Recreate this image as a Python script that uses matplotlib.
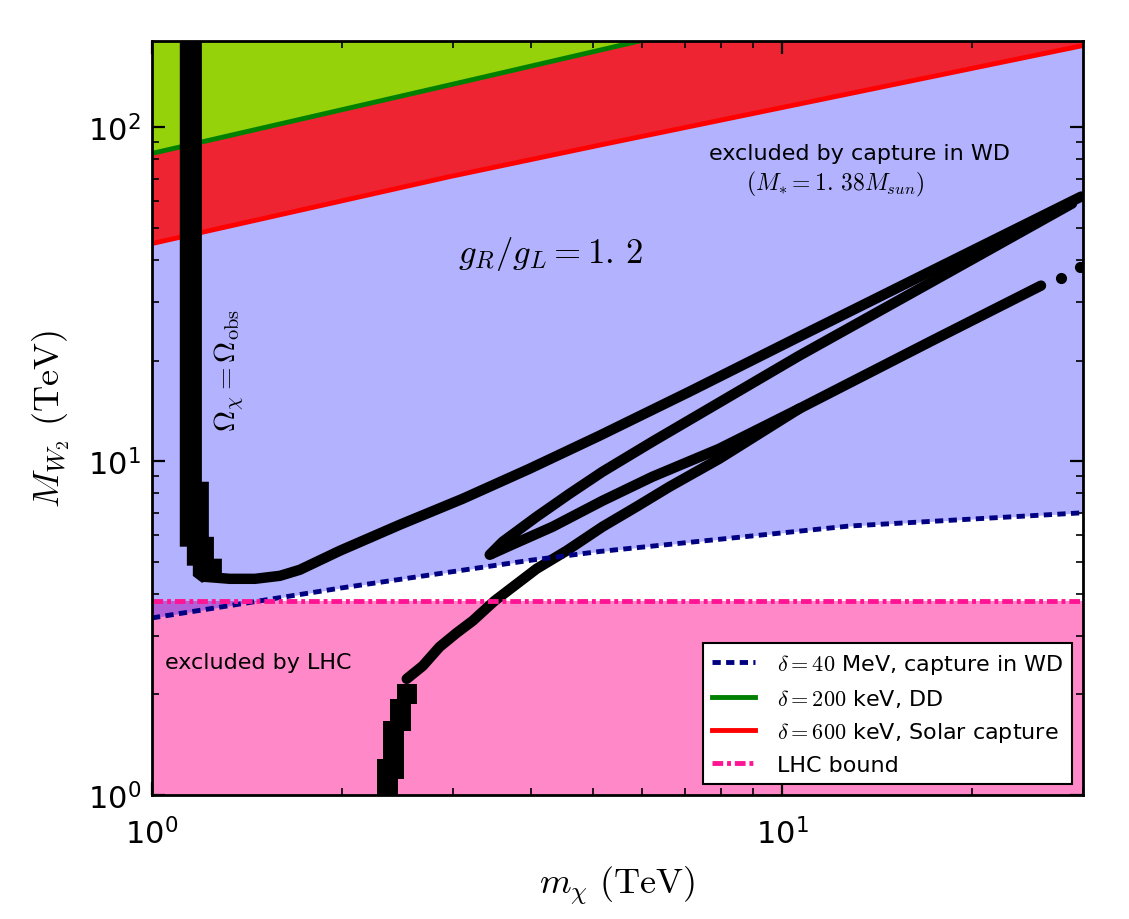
import matplotlib
matplotlib.use('Agg')
import matplotlib.pyplot as plt
from matplotlib.font_manager import FontProperties
from matplotlib.ticker import NullFormatter

plt.rcParams['font.family'] = ['DejaVu Sans']
plt.rcParams['mathtext.fontset'] = 'dejavusans'

# ---- values (TeV) ----
# delta = 40 MeV, capture in WD
wd_x = [1.0, 2.0, 3.97, 5.13, 12.8, 30.0]
wd_y = [3.39, 4.17, 5.04, 5.36, 6.39, 7.0]
# delta = 200 keV, DD
dd_x = [1.0, 2.96, 5.93, 30.0]
dd_y = [83.4, 133.6, 181.0, 360.0]
# delta = 600 keV, solar capture
sun_x = [1.0, 2.96, 5.13, 30.0]
sun_y = [44.8, 71.0, 88.3, 175.5]
# LHC bound
lhc_y = 3.8

# relic density (Omega_chi = Omega_obs) points
band_x = [1.107, 1.200, 1.200, 1.231, 1.231, 1.254, 1.254, 1.291, 1.291, 1.20,
          1.161, 1.161, 1.136, 1.136, 1.107]
band_y = [300, 300, 8.67, 8.67, 5.93, 5.93, 5.10, 5.10, 4.53, 4.32,
          4.53, 4.86, 4.86, 5.54, 5.54]
blob_x = [2.274, 2.274, 2.323, 2.323, 2.384, 2.384, 2.446, 2.446, 2.631, 2.631,
          2.574, 2.574, 2.509, 2.509, 2.455, 2.455]
blob_y = [0.9, 1.282, 1.282, 1.666, 1.666, 1.940, 1.940, 2.151, 2.151, 1.874,
          1.874, 1.555, 1.555, 1.117, 1.117, 0.9]
relA_x = [1.213, 1.329, 1.457, 1.596, 1.716, 1.986, 2.472, 3.111, 3.972, 5.129,
          7.122, 10.64, 17.29, 29.8]
relA_y = [4.501, 4.439, 4.439, 4.532, 4.724, 5.386, 6.444, 7.709, 9.483, 11.91,
          16.13, 23.58, 37.19, 61.94]
relB_x = [28.82, 17.29, 10.64, 6.223, 5.185, 4.597, 4.075, 3.600, 3.434, 3.693,
          4.320, 5.185, 6.223, 7.946, 10.64]
relB_y = [59.03, 34.45, 20.68, 11.43, 9.289, 7.980, 6.810, 5.731, 5.239, 5.575,
          6.356, 7.603, 8.974, 10.89, 14.35]
relC_x = [2.536, 2.689, 2.860, 3.044, 3.227, 3.496, 4.075, 4.547, 5.185, 5.870,
          6.622, 7.946, 10.64, 17.29, 25.73]
relC_y = [2.227, 2.435, 2.777, 3.058, 3.322, 3.814, 4.756, 5.386, 6.356, 7.297,
          8.375, 10.16, 14.35, 22.94, 33.52]
stray_x = [27.68, 29.67]
stray_y = [35.43, 38.21]

xmin, xmax = 1.0, 30.0
ymin, ymax = 1.0, 181.0

fig = plt.figure(figsize=(11.29, 9.2), dpi=100)
ax = fig.add_axes([0.1346, 0.1348, 0.8247, 0.8195])
ax.set_xscale('log')
ax.set_yscale('log')

# filled regions
ax.fill_between([xmin, xmax], 0.5, lhc_y, color='deeppink', alpha=0.5, lw=0, zorder=1)
ax.fill_between(wd_x, wd_y, 400, color='blue', alpha=0.3, lw=0, zorder=1.1)
ax.fill_between(sun_x, sun_y, 400, color='red', alpha=0.8, lw=0, zorder=1.2)
ax.fill_between(dd_x, dd_y, 400, color='chartreuse', alpha=0.8, lw=0, zorder=1.3)

l_dd, = ax.plot(dd_x, dd_y, color='green', lw=3.5, zorder=2,
                label=r'$\delta = 200$ keV, DD')
l_sun, = ax.plot(sun_x, sun_y, color='red', lw=3.5, zorder=2,
                 label=r'$\delta = 600$ keV, Solar capture')

# relic density curve
ax.fill(band_x, band_y, color='k', lw=0, zorder=4)
ax.fill(blob_x, blob_y, color='k', lw=0, zorder=4)
for xs, ys in [(relA_x, relA_y), (relB_x, relB_y), (relC_x, relC_y)]:
    ax.plot(xs, ys, '-', color='k', lw=7.5, solid_capstyle='round',
            solid_joinstyle='round', zorder=4)
ax.plot(stray_x, stray_y, 'o', color='k', ms=7, zorder=4)

l_wd, = ax.plot(wd_x, wd_y, color='navy', lw=3.5, dashes=(1.7, 1.1), zorder=5,
                label=r'$\delta = 40$ MeV, capture in WD')
l_lhc = ax.axhline(lhc_y, color='deeppink', lw=3.5, dashes=(2.2, 0.8, 0.8, 0.8),
                   zorder=5, label='LHC bound')

ax.set_xlim(xmin, xmax)
ax.set_ylim(ymin, ymax)

# texts
ax.text(13.25, 83.4, 'excluded by capture in WD', fontsize=16,
        ha='center', va='center', zorder=6)
ax.text(12.13, 67.8, r'$(M_{*}=1.\,38M_{sun})$', fontsize=17, math_fontfamily='cm',
        ha='center', va='center', zorder=6)
ax.text(4.29, 42.1, r'$g_R/g_L = 1.\,2$', fontsize=25, math_fontfamily='cm',
        ha='center', va='center', zorder=6)
ax.text(1.3245, 18.77, r'$\Omega_{\chi}=\Omega_{\rm obs}$', fontsize=21,
        math_fontfamily='cm', rotation=90, ha='center', va='center', zorder=6)
ax.text(1.048, 2.503, 'excluded by LHC', fontsize=16, ha='left', va='center', zorder=6)

ax.set_xlabel(r'$m_{\chi}\ \mathrm{(TeV)}$', fontsize=26, math_fontfamily='cm',
              labelpad=10)
ax.set_ylabel(r'$M_{W_2}\ \mathrm{(TeV)}$', fontsize=26, math_fontfamily='cm',
              labelpad=11)

ax.tick_params(which='both', direction='in', top=True, right=True)
ax.tick_params(which='major', length=9.5, width=1.6, labelsize=22, pad=8)
ax.tick_params(which='minor', length=5, width=1.2)
ax.tick_params(axis='x', which='major', pad=16)
ax.xaxis.set_minor_formatter(NullFormatter())
ax.yaxis.set_minor_formatter(NullFormatter())
for sp in ax.spines.values():
    sp.set_linewidth(2)
    sp.set_zorder(10)

leg = ax.legend(handles=[l_wd, l_dd, l_sun, l_lhc], loc='lower right',
                prop=FontProperties(size=16, math_fontfamily='cm'),
                fancybox=False, framealpha=1, edgecolor='k',
                handlelength=1.9, handletextpad=1.0, borderaxespad=0.5)
leg.get_frame().set_linewidth(1.5)
leg.set_zorder(11)

fig.savefig('out.png', dpi=100)
